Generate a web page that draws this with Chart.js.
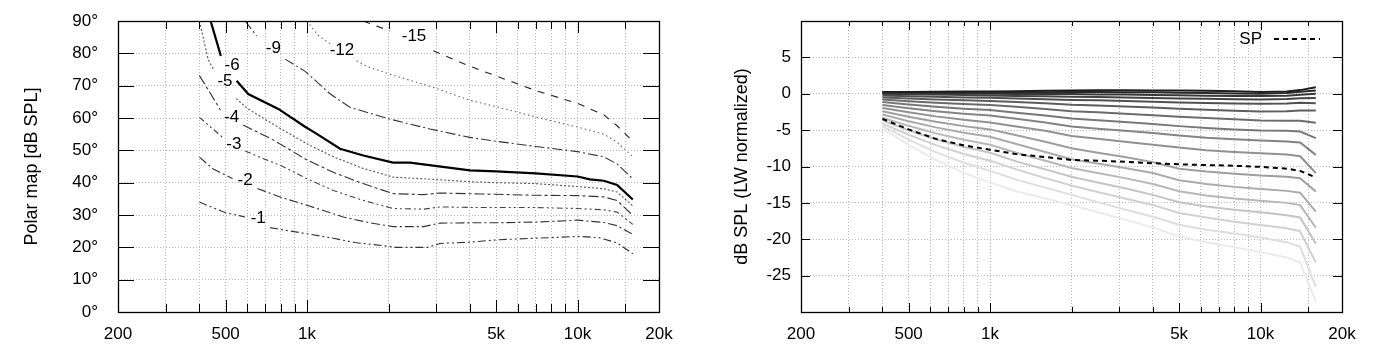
<!DOCTYPE html>
<html><head><meta charset="utf-8">
<script src="https://cdn.jsdelivr.net/npm/chart.js@4/dist/chart.umd.min.js"></script>
<style>
html,body{margin:0;padding:0;background:#fff;}
body{width:1381px;height:349px;position:relative;overflow:hidden;}
#wl{position:absolute;left:0;top:0;width:680px;height:349px;}
#wr{position:absolute;left:690px;top:0;width:691px;height:349px;}
</style></head><body>
<div id="wl"><canvas id="left"></canvas></div>
<div id="wr"><canvas id="right"></canvas></div>
<script>
// ---------- axis ticks ----------
const gridFreqs = [200,300,400,500,600,700,800,900,1000,2000,3000,4000,5000,6000,7000,8000,9000,10000,15000,20000];
const labelFreqs = [200,500,1000,5000,10000,20000];
const freqTickLabels = ['200','500','1k','5k','10k','20k'];
const angleTicks = [0,10,20,30,40,50,60,70,80,90];
const dbTicks = [-30,-25,-20,-15,-10,-5,0,5,10];
const dbTickLabels = ['','-25','-20','-15','-10','-5','0','5',''];

// ---------- left: polar map contours [freq, angle] ----------
const c1 = [[400,34],[450,32.2],[500,30.7],[590,29.4],[660,null],[730,26.1],[800,25.5],[1000,24.2],[1250,22.8],[1500,21.5],[2000,20.3],[2100,20.0],[2800,20.0],[3100,21.2],[4000,21.6],[5000,22.3],[6000,22.6],[8000,23.0],[10000,23.4],[12000,23.0],[14000,21.4],[16000,18.0]];
const c2 = [[400,47.9],[450,44.2],[530,41.3],[590,null],[655,38.2],[800,35.5],[1000,33.0],[1360,29.4],[1700,27.6],[2080,26.4],[2700,26.4],[3100,27.5],[4360,27.6],[5000,27.6],[7000,27.8],[10000,28.4],[12500,27.7],[14000,26.7],[16000,24.0]];
const c3 = [[400,60.2],[450,56.5],[487,54.0],[536,null],[590,49.8],[700,47.2],[800,45.3],[1000,41.2],[1250,37.6],[1600,34.6],[2080,32.0],[2700,31.8],[3100,32.5],[4360,32.3],[7000,32.3],[10000,32.0],[12500,31.6],[14000,30.9],[16000,27.1]];
const c4 = [[400,73.1],[440,67.5],[478,62.5],[526,null],[580,57.8],[740,53.5],[1000,47.0],[1250,43.2],[1600,39.8],[2080,36.6],[2700,36.3],[3100,36.8],[4360,36.5],[5000,36.4],[7000,36.1],[10000,36.0],[12500,35.6],[14000,34.5],[16000,29.9]];
const c5 = [[400,90],[431,78],[452,75],[497,null],[547,66],[600,63],[700,59.6],[806,56.5],[1000,52],[1250,48],[1600,44.5],[2080,41.7],[2700,41.2],[4000,40.3],[5000,40.0],[7000,39.7],[10000,38.8],[12500,38.1],[14000,37.1],[16000,32.8]];
const c6 = [[440,90],[480,79.2],[528,null],[549,71.5],[606,67.4],[783,62.8],[983,57.3],[1086,55.1],[1324,50.5],[1614,48.4],[2080,46.2],[2400,46.2],[4000,43.8],[5000,43.5],[7000,42.9],[10000,41.9],[11100,41.0],[12500,40.6],[14000,39.3],[16000,34.8]];
const c9 = [[590,90],[651,85.4],[750,null],[829,78.2],[982,74.5],[1215,67.5],[1441,63.3],[2014,59.7],[2846,56.6],[4000,54.0],[5000,52.8],[7000,51.2],[10000,49.6],[12500,48.0],[14000,45.8],[16000,41.2]];
const c12 = [[997,90],[1100,85.5],[1215,83.0],[1346,null],[1525,77.7],[1660,76.0],[2014,73.6],[2846,69.8],[4000,65.5],[5000,63.5],[7000,60.3],[10000,57.2],[12500,55.0],[14000,52.5],[16000,48.0]];
const c15 = [[1614,90],[2026,86.9],[2485,null],[2930,80.8],[4000,76.0],[5000,73.0],[7000,68.5],[10000,64.5],[12500,61.0],[14000,57.6],[16000,52.8]];
const contourLevels = ['-1','-2','-3','-4','-5','-6','-9','-12','-15'];
const labelFreq  = [660, 590, 536, 526, 497, 528, 750, 1346, 2485];
const labelAngle = [28.9, 40.6, 51.8, 60.2, 71.5, 76.3, 81.5, 80.9, 85.4];

// ---------- right: off-axis responses (dB, LW normalized) ----------
const freqs = [400,500,630,800,1000,1250,1600,2000,2500,3150,4000,5000,6300,8000,10000,12500,14000,16000];
const deg0  = [0.25,0.25,0.27,0.3,0.3,0.35,0.4,0.45,0.48,0.47,0.45,0.45,0.42,0.35,0.25,0.3,0.5,0.9];
const deg5  = [0.2,0.2,0.2,0.2,0.18,0.2,0.22,0.25,0.25,0.22,0.2,0.15,0.1,0.05,0.0,0.1,0.28,0.45];
const deg10 = [0.1,0.08,0.05,0.02,0.0,-0.03,-0.05,-0.05,-0.1,-0.12,-0.18,-0.22,-0.26,-0.3,-0.32,-0.27,-0.15,0.0];
const deg15 = [-0.05,-0.08,-0.12,-0.18,-0.25,-0.3,-0.35,-0.4,-0.45,-0.5,-0.6,-0.65,-0.7,-0.75,-0.78,-0.72,-0.62,-0.6];
const deg20 = [-0.25,-0.34,-0.42,-0.5,-0.55,-0.65,-0.75,-0.85,-0.9,-1.0,-1.1,-1.2,-1.28,-1.35,-1.38,-1.35,-1.25,-1.3];
const deg25 = [-0.5,-0.65,-0.79,-0.91,-1.0,-1.15,-1.3,-1.5,-1.6,-1.75,-1.9,-2.05,-2.2,-2.35,-2.44,-2.4,-2.3,-2.3];
const deg30 = [-0.8,-1.03,-1.24,-1.42,-1.55,-1.8,-2.1,-2.4,-2.55,-2.75,-2.95,-3.15,-3.35,-3.5,-3.68,-3.7,-3.7,-4.0];
const deg35 = [-1.15,-1.48,-1.79,-2.05,-2.25,-2.6,-3.0,-3.4,-3.65,-3.9,-4.15,-4.45,-4.7,-4.9,-5.06,-5.1,-5.2,-6.1];
const deg40 = [-1.55,-1.99,-2.39,-2.74,-3.0,-3.45,-3.95,-4.5,-4.8,-5.1,-5.4,-5.75,-6.05,-6.25,-6.43,-6.55,-6.7,-8.4];
const deg45 = [-1.95,-2.55,-3.11,-3.59,-3.95,-4.5,-5.1,-5.8,-6.2,-6.6,-7.0,-7.4,-7.75,-8.0,-8.18,-8.35,-8.6,-10.9];
const deg50 = [-2.4,-3.15,-3.85,-4.45,-4.9,-5.7,-6.6,-7.5,-8.1,-8.7,-9.4,-10.3,-10.7,-11.0,-11.25,-11.4,-11.6,-13.45];
const deg55 = [-2.85,-3.77,-4.62,-5.35,-5.9,-6.9,-8.0,-9.0,-9.6,-10.2,-10.9,-11.9,-12.4,-12.8,-13.1,-13.35,-13.6,-16.2];
const deg60 = [-3.3,-4.41,-5.45,-6.33,-7.0,-8.1,-9.2,-10.2,-10.9,-11.6,-12.4,-13.4,-14.0,-14.4,-14.7,-15.0,-15.3,-18.4];
const deg65 = [-3.7,-5.02,-6.25,-7.31,-8.1,-9.3,-10.4,-11.4,-12.2,-13.0,-13.9,-14.9,-15.5,-15.95,-16.3,-16.7,-17.0,-20.6];
const deg70 = [-4.1,-5.63,-7.06,-8.28,-9.2,-10.4,-11.6,-12.6,-13.5,-14.4,-15.3,-16.4,-17.0,-17.6,-18.05,-18.5,-18.9,-23.2];
const deg75 = [-4.45,-6.3,-8.02,-9.49,-10.6,-11.8,-12.9,-13.9,-14.9,-15.9,-16.9,-18.0,-18.7,-19.2,-19.75,-20.4,-21.0,-26.5];
const deg80 = [-4.8,-7.02,-9.09,-10.87,-12.2,-13.4,-14.4,-15.3,-16.3,-17.3,-18.4,-19.6,-20.4,-21.1,-21.8,-22.5,-23.2,-28.5];
const sp    = [-3.45,-4.9,-6.2,-7.1,-7.7,-8.3,-8.7,-9.1,-9.2,-9.35,-9.55,-9.7,-9.8,-9.9,-10.05,-10.3,-10.6,-11.5];

// ---------- styling ----------
const FONT = "'Liberation Sans', Arial, Helvetica, sans-serif";
Chart.defaults.font.family = FONT;
Chart.defaults.font.size = 17;
Chart.defaults.color = '#000';

const contours = [c1,c2,c3,c4,c5,c6,c9,c12,c15];
const contourStyle = [
  {dash:[8,3,2,3,2,3], color:'#333', w:1.1},
  {dash:[9,3,2,3],     color:'#333', w:1.1},
  {dash:[6,3,2,3,2,3], color:'#444', w:1.1},
  {dash:[10,3,3,3],    color:'#333', w:1.1},
  {dash:[2,2],         color:'#555', w:1.1},
  {dash:[],            color:'#000', w:2.2},
  {dash:[10,3,2,3],    color:'#333', w:1.1},
  {dash:[1.5,3],       color:'#666', w:1.1},
  {dash:[7,7],         color:'#222', w:1.1}
];

const offAxis = [deg0,deg5,deg10,deg15,deg20,deg25,deg30,deg35,deg40,deg45,deg50,deg55,deg60,deg65,deg70,deg75,deg80];

function xScale(pad) {
  return {
    type:'logarithmic', min:200, max:20000,
    afterBuildTicks: ax => { ax.ticks = gridFreqs.map(v => ({value:v})); },
    afterFit: ax => { ax.height = 37; ax.paddingLeft = 0; ax.paddingRight = 0; },
    ticks: { autoSkip:false, maxRotation:0, minRotation:0, padding:pad,
      callback: v => { const i = labelFreqs.indexOf(v); return i >= 0 ? freqTickLabels[i] : ''; } },
    grid: { color:'#b8b8b8', lineWidth:1, drawTicks:false },
    border: { display:false, dash:[1,2] }
  };
}

const framePlugin = {
  id:'frame',
  afterDraw(chart, args, o) {
    const {ctx, chartArea:a, scales:{x,y}} = chart;
    ctx.save();
    ctx.strokeStyle = '#000'; ctx.lineWidth = 1;
    ctx.beginPath();
    for (const v of gridFreqs) {
      const px = Math.round(x.getPixelForValue(v)) + 0.5;
      const L = labelFreqs.includes(v) ? o.xMajor : o.xMinor;
      ctx.moveTo(px, a.bottom); ctx.lineTo(px, a.bottom - L);
      ctx.moveTo(px, a.top); ctx.lineTo(px, a.top + L);
    }
    for (const t of y.ticks) {
      const py = Math.round(y.getPixelForValue(t.value)) + 0.5;
      ctx.moveTo(a.left, py); ctx.lineTo(a.left + o.yLen, py);
      ctx.moveTo(a.right, py); ctx.lineTo(a.right - o.yLen, py);
    }
    ctx.stroke();
    ctx.lineWidth = 1.3;
    ctx.strokeRect(Math.round(a.left)+0.5, Math.round(a.top)+0.5, Math.round(a.right-a.left), Math.round(a.bottom-a.top));
    ctx.restore();
  }
};

const contourLabelPlugin = {
  id:'clabels',
  afterDatasetsDraw(chart) {
    const {ctx, scales:{x,y}} = chart;
    ctx.save();
    ctx.font = '17px ' + FONT; ctx.fillStyle = '#000';
    ctx.textAlign = 'center'; ctx.textBaseline = 'middle';
    contourLevels.forEach((t,i) => {
      ctx.fillText(t, x.getPixelForValue(labelFreq[i]), y.getPixelForValue(labelAngle[i]));
    });
    ctx.restore();
  }
};

const legendPlugin = {
  id:'splegend',
  afterDraw(chart) {
    const {ctx, chartArea:a} = chart;
    const ds = chart.data.datasets[0];
    const yy = a.top + 18;
    ctx.save();
    ctx.font = '17px ' + FONT; ctx.fillStyle = '#000';
    ctx.textAlign = 'right'; ctx.textBaseline = 'middle';
    ctx.fillText(ds.label, a.right - 80, yy);
    ctx.strokeStyle = ds.borderColor; ctx.lineWidth = ds.borderWidth;
    ctx.setLineDash(ds.borderDash);
    ctx.beginPath(); ctx.moveTo(a.right - 68, yy); ctx.lineTo(a.right - 22, yy); ctx.stroke();
    ctx.restore();
  }
};

// ---------- left chart ----------
new Chart(document.getElementById('left'), {
  type:'line',
  data:{ datasets: contours.map((c,i) => ({
    label: contourLevels[i],
    data: c.map(p => ({x:p[0], y:p[1]})),
    borderColor: contourStyle[i].color, borderWidth: contourStyle[i].w,
    borderDash: contourStyle[i].dash, pointRadius:0, tension:0, fill:false, spanGaps:false
  }))},
  options:{
    responsive:true, maintainAspectRatio:false, animation:false,
    layout:{ padding:{ left:0, top:21, right:21, bottom:0 } },
    plugins:{ legend:{display:false}, tooltip:{enabled:false},
      frame:{ xMajor:12, xMinor:8, yLen:16 } },
    scales:{
      x: xScale(12),
      y: { type:'linear', min:0, max:90,
        afterBuildTicks: ax => { ax.ticks = angleTicks.map(v => ({value:v})); },
        afterFit: ax => { ax.width = 118; ax.paddingTop = 0; ax.paddingBottom = 0; },
        ticks:{ padding:20, callback: v => v + '°' },
        grid:{ color:'#b8b8b8', lineWidth:1, drawTicks:false },
        border:{ display:false, dash:[1,2] },
        title:{ display:true, text:'Polar map [dB SPL]', font:{size:18}, padding:{top:21.5, bottom:0} } }
    }
  },
  plugins:[framePlugin, contourLabelPlugin]
});

// ---------- right chart ----------
const grayDatasets = offAxis.map((arr,k) => {
  const g = Math.round(30 + k * 12.8);
  return { label: (k*5) + '°', data: arr.map((v,i) => ({x:freqs[i], y:v})),
    borderColor: `rgb(${g},${g},${g})`, borderWidth:2, pointRadius:0, tension:0, fill:false };
});
new Chart(document.getElementById('right'), {
  type:'line',
  data:{ datasets: [
    { label:'SP', data: sp.map((v,i) => ({x:freqs[i], y:v})), borderColor:'#000', borderWidth:2,
      borderDash:[5,4], pointRadius:0, tension:0, fill:false },
    ...grayDatasets ] },
  options:{
    responsive:true, maintainAspectRatio:false, animation:false,
    layout:{ padding:{ left:0, top:21, right:39, bottom:0 } },
    plugins:{ legend:{display:false}, tooltip:{enabled:false},
      frame:{ xMajor:9, xMinor:5, yLen:9 } },
    scales:{
      x: xScale(12),
      y: { type:'linear', min:-30, max:10,
        afterBuildTicks: ax => { ax.ticks = dbTicks.map(v => ({value:v})); },
        afterFit: ax => { ax.width = 111; ax.paddingTop = 0; ax.paddingBottom = 0; },
        ticks:{ padding:10, callback: v => { const i = dbTicks.indexOf(v); return i >= 0 ? dbTickLabels[i] : ''; } },
        grid:{ color:'#b8b8b8', lineWidth:1, drawTicks:false },
        border:{ display:false, dash:[1,2] },
        title:{ display:true, text:'dB SPL (LW normalized)', font:{size:18}, padding:{top:41.5, bottom:0} } }
    }
  },
  plugins:[framePlugin, legendPlugin]
});
</script></body></html>
